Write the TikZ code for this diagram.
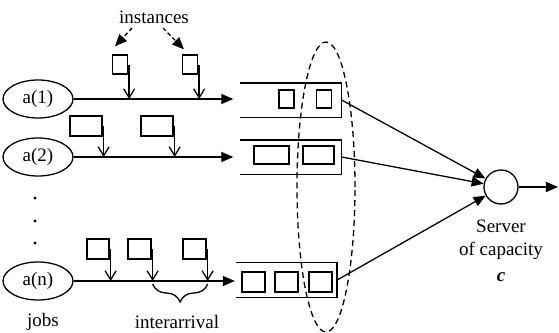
\documentclass[tikz,border=0pt]{standalone}
\usepackage{fontspec}
\setmainfont{Liberation Serif}
\usetikzlibrary{arrows.meta,shapes.geometric,decorations.pathreplacing}
\begin{document}
\begin{tikzpicture}[x=.5pt,y=-.5pt,line width=.65pt,every node/.style={font=\fontsize{9.5}{11.5}\selectfont,inner sep=0pt},
	tri/.style={-{Triangle[length=6pt,width=5pt]}},
	barb/.style={-{Straight Barb[length=4.5pt,width=5.5pt]}},
	job/.style={draw,ellipse,minimum width=35pt,minimum height=19pt},
	item/.style={draw,minimum width=#1,minimum height=10pt},
	queue/.style={minimum width=50pt,minimum height=16.5pt}]
		\useasboundingbox(0,0)rectangle(559,333);
		\node[job](A1)at(38,99){a(1)};
		\node[job](A2)at(38,157){a(2)};
		\node[job](AN)at(38,281){a(n)};
		\node[queue](Q1)at(291,100){};
		\node[queue](Q2)at(291,157){};
		\node[queue,minimum height=17pt](QN)at(286.5,280){};
		\node[draw,circle,minimum size=17pt](S)at(501,187){};
		\coordinate(OUT)at(558,187);
		\node[draw,dashed,dash pattern=on 3pt off 2pt,ellipse,minimum width=29pt,minimum height=145pt](G)at(326,187){};
		%queues, open on the left
		\foreach\q in{Q1,Q2,QN}{\draw(\q.north west)--(\q.north east)--(\q.south east)--(\q.south west);}
		\node[item=7.5pt,minimum height=9pt](Q11)at(286.5,99){};
		\node[item=7.5pt,minimum height=9pt](Q12)at(324,99){};
		\node[item=17.5pt,minimum height=9pt](Q21)at(271.5,155){};
		\node[item=15.5pt,minimum height=9pt](Q22)at(318.5,155){};
		\foreach\x[count=\i]in{253.5,286.5,320.5}{\node[item=11.5pt](QN\i)at(\x,282){};}
		%arriving instances
		\node[item=7.5pt,minimum height=9.5pt](B11)at(120,64.5){};
		\node[item=7.5pt,minimum height=9.5pt](B12)at(190,64.5){};
		\node[item=16pt](B21)at(86,126){};
		\node[item=16pt](B22)at(157,126){};
		\node[item=11pt](BN1)at(98,249){};
		\node[item=11.5pt](BN2)at(139.5,249){};
		\node[item=11.5pt](BN3)at(194.5,249){};
		\foreach\a/\q/\s in{A1/Q1/3.5,A2/Q2/3.5,AN/QN/.5}{\draw[tri,shorten >=\s pt](\a)--(\a-|\q.west);}
		\foreach\b/\a in{B11/A1,B12/A1,B21/A2,B22/A2,BN1/AN,BN2/AN,BN3/AN}{\draw[barb]([xshift=.5pt]\b.east)--([xshift=.5pt]\b.east|-\a);}
		\foreach\q in{Q1,Q2,QN}{\draw[tri](\q.east)--(S);}
		\draw[tri](S)--(OUT);
		\foreach\y in{198,221,243}{\fill(35,\y)circle(.8pt);}
		\node(I)at(154,17){instances};
		\draw[dashed,dash pattern=on 2pt off 1.3pt,-{Triangle[length=6pt,width=5pt]}]([xshift=-11pt,yshift=-2pt]I.south)--([xshift=-2.5pt,yshift=4pt]B11.north);
		\draw[dashed,dash pattern=on 2pt off 1.3pt,-{Triangle[length=6pt,width=5pt]}]([xshift=4.5pt,yshift=-2pt]I.south)--([xshift=-3pt,yshift=2.5pt]B12.north);
		\draw[decorate,decoration={brace,mirror,amplitude=9pt}]([xshift=.5pt,yshift=-1.5pt]BN2.east|-AN)--([xshift=.5pt,yshift=-1.5pt]BN3.east|-AN);
		\node(IA)at(177,322){interarrival};
		\node(J)at(43,322){jobs};
		\node[align=center](SL)at(501,251){Server\\of capacity\\[1.5pt]\textbf{\textit{c}}};
	\end{tikzpicture}
\end{document}
